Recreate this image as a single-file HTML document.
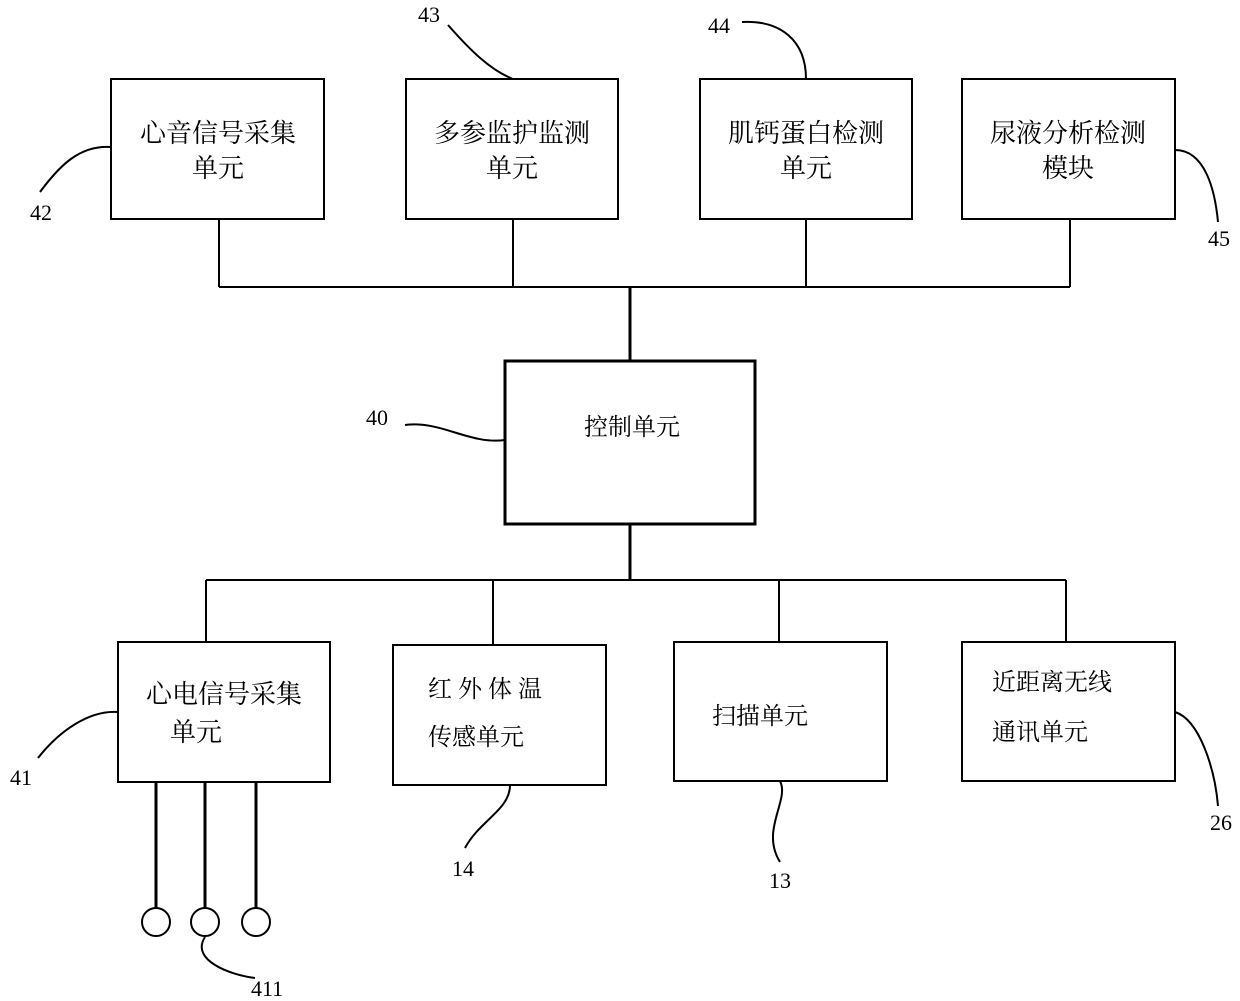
<!DOCTYPE html>
<html><head><meta charset="utf-8"><style>
html,body{margin:0;padding:0;background:#fff;}
svg{display:block;}
.t{font-family:"Liberation Serif","Noto Serif CJK SC",serif;fill:#000;}
.n{font-family:"Liberation Serif",serif;font-size:22px;fill:#000;}
</style></head><body>
<svg width="1240" height="1001" viewBox="0 0 1240 1001" xmlns="http://www.w3.org/2000/svg">
<g fill="none" stroke="#000" stroke-width="2">
<rect x="111" y="79" width="213" height="140"/>
<rect x="406" y="79" width="212" height="140"/>
<rect x="700" y="79" width="212" height="140"/>
<rect x="962" y="79" width="213" height="140"/>
<path d="M219 219V287M513 219V287M806 219V287M1070 219V287M219 287H1070"/>
<path d="M630 287V361" stroke-width="3"/>
<rect x="505" y="361" width="250" height="163" stroke-width="3"/>
<path d="M630 524V580" stroke-width="3"/>
<path d="M206 580H1066M206 580V642M493 580V645M779 580V642M1066 580V642"/>
<rect x="118" y="642" width="212" height="140"/>
<rect x="393" y="645" width="213" height="140"/>
<rect x="674" y="642" width="213" height="139"/>
<rect x="962" y="642" width="213" height="139"/>
<path d="M156 782V908M205 782V908M256 782V908" stroke-width="3"/>
<circle cx="156" cy="922" r="14"/>
<circle cx="205" cy="922" r="14"/>
<circle cx="256" cy="922" r="14"/>
<!-- leader curves -->
<path d="M111 147C80 145 60 165 40 192"/>
<path d="M448 25C470 50 490 70 513 79"/>
<path d="M742 22C780 20 806 40 806 79"/>
<path d="M1175 150C1205 150 1215 190 1218 222"/>
<path d="M405 425C440 420 470 445 505 440"/>
<path d="M38 758C60 730 90 710 118 712"/>
<path d="M510 785C510 810 480 820 465 848"/>
<path d="M780 781C790 800 760 830 780 862"/>
<path d="M1175 712C1200 720 1215 770 1218 806"/>
<path d="M205 937C190 960 230 975 255 978"/>
</g>
<g class="t" font-size="26" text-anchor="middle">
<text x="218" y="142">心音信号采集</text>
<text x="218" y="177">单元</text>
<text x="512" y="142">多参监护监测</text>
<text x="512" y="177">单元</text>
<text x="806" y="142">肌钙蛋白检测</text>
<text x="806" y="177">单元</text>
<text x="1068" y="142">尿液分析检测</text>
<text x="1068" y="177">模块</text>
<text x="224" y="703">心电信号采集</text>
<text x="196" y="741">单元</text>
</g>
<g class="t" font-size="24">
<text x="584" y="435">控制单元</text>
<text x="428" y="697" letter-spacing="6">红外体温</text>
<text x="428" y="745">传感单元</text>
<text x="712" y="724">扫描单元</text>
<text x="992" y="690">近距离无线</text>
<text x="992" y="740">通讯单元</text>
</g>
<g class="n">
<text x="30" y="220">42</text>
<text x="418" y="22">43</text>
<text x="708" y="33">44</text>
<text x="1208" y="246">45</text>
<text x="366" y="425">40</text>
<text x="10" y="785">41</text>
<text x="452" y="876">14</text>
<text x="769" y="888">13</text>
<text x="1210" y="830">26</text>
<text x="251" y="996">411</text>
</g>
</svg>
</body></html>
